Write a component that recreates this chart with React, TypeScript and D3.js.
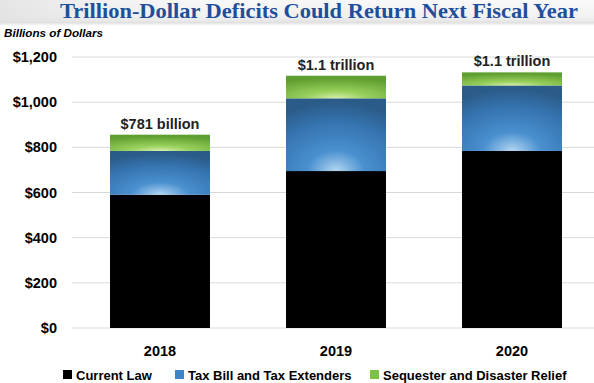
import React from "react";
import * as d3 from "d3";

const categories = ["2018", "2019", "2020"];
const currentLaw = [590, 695, 784];
const taxBill = [194, 322, 290];
const sequester = [72, 100, 58];
const totalLabels = ["$781 billion", "$1.1 trillion", "$1.1 trillion"];
const yTicks = [0, 200, 400, 600, 800, 1000, 1200];
const seriesNames = ["Current Law", "Tax Bill and Tax Extenders", "Sequester and Disaster Relief"];

const W = 594;
const H = 383;

export default function App() {
  const x = d3.scaleBand<string>().domain(categories).range([72, 600]).paddingInner(0.432).paddingOuter(0.216);
  const y = d3.scaleLinear().domain([0, 1200]).range([328, 57]);
  const fmt = (v: number) => "$" + d3.format(",")(v);

  const rows = categories.map((c, i) => ({ cat: c, cl: currentLaw[i], tb: taxBill[i], sq: sequester[i] }));
  const stack = d3.stack<any>().keys(["cl", "tb", "sq"])(rows);
  const fills = ["#000000", "url(#gBlue)", "url(#gGreen)"];
  const legendFills = ["#000000", "#3d85c6", "#7dc242"];
  const legendX = [63, 175, 370];

  const font = "'Liberation Sans', Arial, sans-serif";

  return (
    <svg width={W} height={H} style={{ position: "absolute", left: 0, top: 0, background: "#fff" }} fontFamily={font}>
      <defs>
        <linearGradient id="gBand" x1="0" y1="0" x2="0" y2="1">
          <stop offset="0" stopColor="#f8f8f8" />
          <stop offset="0.75" stopColor="#efefef" />
          <stop offset="1" stopColor="#e2e2e2" />
        </linearGradient>
        <linearGradient id="gBandH" x1="0" y1="0" x2="1" y2="0">
          <stop offset="0" stopColor="#e0e0e0" stopOpacity="0.8" />
          <stop offset="0.5" stopColor="#ffffff" stopOpacity="0" />
          <stop offset="1" stopColor="#ffffff" stopOpacity="0.2" />
        </linearGradient>
        <linearGradient id="gShadow" x1="0" y1="0" x2="0" y2="1">
          <stop offset="0" stopColor="#dcdcdc" />
          <stop offset="1" stopColor="#ffffff" />
        </linearGradient>
        <radialGradient id="gBlue" cx="0.5" cy="1" r="0.95" fx="0.5" fy="1">
          <stop offset="0" stopColor="#b3d6f3" />
          <stop offset="0.3" stopColor="#4a90cf" />
          <stop offset="0.7" stopColor="#3574b0" />
          <stop offset="1" stopColor="#2b5b88" />
        </radialGradient>
        <radialGradient id="gGreen" cx="0.5" cy="1" r="0.9" fx="0.5" fy="1">
          <stop offset="0" stopColor="#d6eeaa" />
          <stop offset="0.35" stopColor="#98d05c" />
          <stop offset="1" stopColor="#5f9e30" />
        </radialGradient>
      </defs>

      <rect x={0} y={0} width={W} height={22} fill="url(#gBand)" />
      <rect x={0} y={0} width={W} height={22} fill="url(#gBandH)" />
      <rect x={0} y={22} width={W} height={4} fill="url(#gShadow)" />
      <text
        x={60}
        y={18}
        fontFamily="'Liberation Serif', 'DejaVu Serif', serif"
        fontWeight="bold"
        fontSize={21}
        fill="#1f4e9b"
        textLength={518}
        lengthAdjust="spacingAndGlyphs"
      >
        Trillion-Dollar Deficits Could Return Next Fiscal Year
      </text>

      <text x={4} y={37} fontSize={11.5} fontWeight="bold" fontStyle="italic" fill="#000" textLength={99} lengthAdjust="spacingAndGlyphs">
        Billions of Dollars
      </text>

      {yTicks.map((t) => (
        <g key={t}>
          <line x1={72} x2={W} y1={y(t)} y2={y(t)} stroke="#d9d9d9" strokeWidth={1} />
          <text x={57} y={y(t) + 5} textAnchor="end" fontSize={14.5} fontWeight="bold" fill="#000">
            {fmt(t)}
          </text>
        </g>
      ))}

      {stack.map((s, si) =>
        s.map((d, i) => (
          <rect
            key={si + "-" + i}
            x={x(categories[i])}
            width={x.bandwidth()}
            y={y(d[1])}
            height={y(d[0]) - y(d[1])}
            fill={fills[si]}
          />
        ))
      )}

      {categories.map((c, i) => {
        const top = stack[2][i][1];
        return (
          <text key={c + "l"} x={(x(c) as number) + x.bandwidth() / 2} y={y(top) - 6} textAnchor="middle" fontSize={14.5} fontWeight="bold" fill="#222">
            {totalLabels[i]}
          </text>
        );
      })}

      {categories.map((c) => (
        <text key={c} x={(x(c) as number) + x.bandwidth() / 2} y={356} textAnchor="middle" fontSize={14.5} fontWeight="bold" fill="#000">
          {c}
        </text>
      ))}

      {seriesNames.map((n, i) => (
        <g key={n}>
          <rect x={legendX[i]} y={370} width={9} height={9} fill={legendFills[i]} />
          <text x={legendX[i] + 13} y={380} fontSize={13} fontWeight="bold" fill="#000">
            {n}
          </text>
        </g>
      ))}
    </svg>
  );
}
